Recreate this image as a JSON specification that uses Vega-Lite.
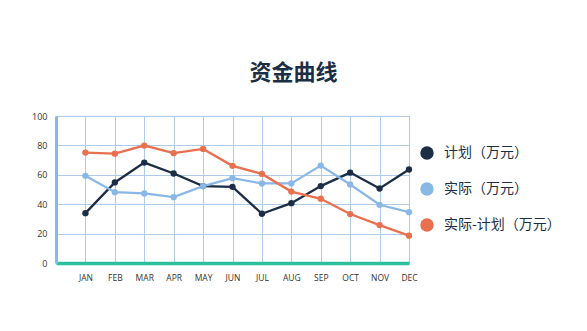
{
  "$schema": "https://vega.github.io/schema/vega-lite/v6.json",
  "autosize": {"type": "none"},
  "width": 353,
  "height": 147,
  "padding": {"left": 56, "top": 116, "right": 178, "bottom": 68},
  "background": "white",
  "title": {
    "text": "资金曲线",
    "font": "Noto Sans CJK SC",
    "fontSize": 22,
    "fontWeight": "bold",
    "color": "#1b2e45",
    "anchor": "middle",
    "dx": 61,
    "offset": 27
  },
  "data": {
    "values": [
      {"month": "JAN", "series": "计划（万元）", "value": 33.9},
      {"month": "FEB", "series": "计划（万元）", "value": 54.8},
      {"month": "MAR", "series": "计划（万元）", "value": 68.3},
      {"month": "APR", "series": "计划（万元）", "value": 60.9},
      {"month": "MAY", "series": "计划（万元）", "value": 52.3},
      {"month": "JUN", "series": "计划（万元）", "value": 51.8},
      {"month": "JUL", "series": "计划（万元）", "value": 33.5},
      {"month": "AUG", "series": "计划（万元）", "value": 40.7},
      {"month": "SEP", "series": "计划（万元）", "value": 52.3},
      {"month": "OCT", "series": "计划（万元）", "value": 61.5},
      {"month": "NOV", "series": "计划（万元）", "value": 50.7},
      {"month": "DEC", "series": "计划（万元）", "value": 63.6},
      {"month": "JAN", "series": "实际（万元）", "value": 59.3},
      {"month": "FEB", "series": "实际（万元）", "value": 48.2},
      {"month": "MAR", "series": "实际（万元）", "value": 47.3},
      {"month": "APR", "series": "实际（万元）", "value": 44.8},
      {"month": "MAY", "series": "实际（万元）", "value": 52.3},
      {"month": "JUN", "series": "实际（万元）", "value": 57.7},
      {"month": "JUL", "series": "实际（万元）", "value": 54.1},
      {"month": "AUG", "series": "实际（万元）", "value": 54.1},
      {"month": "SEP", "series": "实际（万元）", "value": 66.3},
      {"month": "OCT", "series": "实际（万元）", "value": 53.4},
      {"month": "NOV", "series": "实际（万元）", "value": 39.6},
      {"month": "DEC", "series": "实际（万元）", "value": 34.6},
      {"month": "JAN", "series": "实际-计划（万元）", "value": 75.1},
      {"month": "FEB", "series": "实际-计划（万元）", "value": 74.4},
      {"month": "MAR", "series": "实际-计划（万元）", "value": 79.9},
      {"month": "APR", "series": "实际-计划（万元）", "value": 74.7},
      {"month": "MAY", "series": "实际-计划（万元）", "value": 77.6},
      {"month": "JUN", "series": "实际-计划（万元）", "value": 66.1},
      {"month": "JUL", "series": "实际-计划（万元）", "value": 60.6},
      {"month": "AUG", "series": "实际-计划（万元）", "value": 48.6},
      {"month": "SEP", "series": "实际-计划（万元）", "value": 43.7},
      {"month": "OCT", "series": "实际-计划（万元）", "value": 33.3},
      {"month": "NOV", "series": "实际-计划（万元）", "value": 25.8},
      {"month": "DEC", "series": "实际-计划（万元）", "value": 18.6}
    ]
  },
  "mark": {"type": "line", "strokeWidth": 2.3, "point": {"filled": true, "size": 40, "opacity": 1}},
  "encoding": {
    "x": {
      "field": "month",
      "type": "ordinal",
      "scale": {"type": "point", "domain": ["", "JAN", "FEB", "MAR", "APR", "MAY", "JUN", "JUL", "AUG", "SEP", "OCT", "NOV", "DEC"], "padding": 0},
      "axis": {
        "title": null,
        "labelAngle": 0,
        "labelFont": "Open Sans",
        "labelFontSize": 8.5,
        "labelColor": "#333333",
        "labelPadding": 10,
        "ticks": false,
        "grid": true,
        "gridColor": "#aecbea",
        "gridWidth": 1,
        "domainColor": "#2bbf9d",
        "domainWidth": 3.5,
        "zindex": 0
      }
    },
    "y": {
      "field": "value",
      "type": "quantitative",
      "scale": {"domain": [0, 100], "nice": false},
      "axis": {
        "title": null,
        "values": [0, 20, 40, 60, 80, 100],
        "labelFont": "Open Sans",
        "labelFontSize": 9,
        "labelColor": "#333333",
        "labelPadding": 9,
        "ticks": false,
        "grid": true,
        "gridColor": "#aecbea",
        "gridWidth": 1,
        "domainColor": "#8ab8e6",
        "domainWidth": 3,
        "zindex": 0
      }
    },
    "color": {
      "field": "series",
      "type": "nominal",
      "scale": {
        "domain": ["计划（万元）", "实际（万元）", "实际-计划（万元）"],
        "range": ["#1b2e45", "#8ab8e6", "#e8704f"]
      },
      "legend": {
        "title": null,
        "orient": "none",
        "legendX": 364,
        "legendY": 30,
        "symbolType": "circle",
        "symbolSize": 180,
        "symbolStrokeWidth": 0,
        "labelFont": "Noto Sans CJK SC",
        "labelFontSize": 14,
        "labelColor": "#1b2e45",
        "labelOffset": 10,
        "rowPadding": 22,
        "labelLimit": 200
      }
    }
  },
  "config": {
    "view": {"stroke": "#aecbea", "strokeWidth": 1}
  }
}
